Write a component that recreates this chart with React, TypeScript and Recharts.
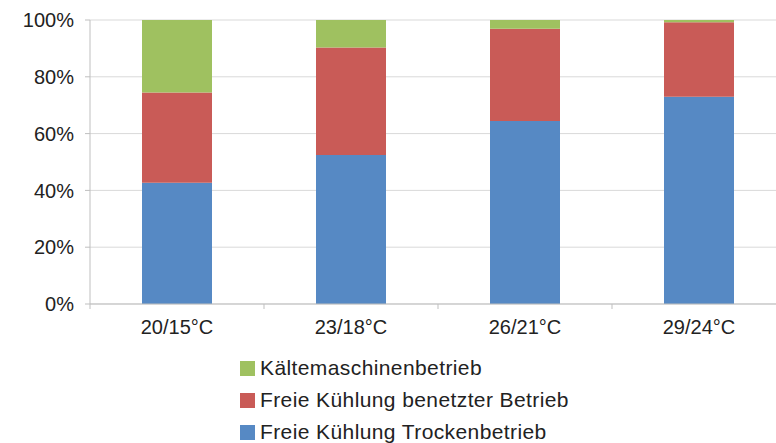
import { BarChart, Bar, XAxis, YAxis, CartesianGrid } from 'recharts';

const categories = ['20/15°C', '23/18°C', '26/21°C', '29/24°C'];
const trocken = [42.7, 52.5, 64.4, 73.0];
const benetzt = [31.8, 37.8, 32.5, 26.2];
const kaelte = [25.5, 9.7, 3.1, 0.8];
const yTicks = [0, 20, 40, 60, 80, 100];

const series = [
  { key: 'trocken', name: 'Freie Kühlung Trockenbetrieb', color: '#5689c4' },
  { key: 'benetzt', name: 'Freie Kühlung benetzter Betrieb', color: '#c95b57' },
  { key: 'kaelte', name: 'Kältemaschinenbetrieb', color: '#9fc160' },
];

const data = categories.map((c, i) => ({
  cat: c,
  trocken: trocken[i],
  benetzt: benetzt[i],
  kaelte: kaelte[i],
}));

const FONT = '"Liberation Sans", Arial, sans-serif';
const AXIS = '#bfbfbf';

function CatTick(props: any) {
  const { x, y, payload } = props;
  const half = payload.offset ?? 87;
  return (
    <g>
      <line x1={x - half} x2={x - half} y1={y} y2={y + 5} stroke={AXIS} />
      <text x={x} y={y + 16} dy="0.71em" textAnchor="middle" fontSize={20} fill="#222" fontFamily={FONT}>
        {payload.value}
      </text>
    </g>
  );
}

export default function App() {
  return (
    <div
      style={{
        position: 'absolute',
        left: 0,
        top: 0,
        width: 776,
        height: 443,
        overflow: 'hidden',
        background: '#fff',
        fontFamily: FONT,
      }}
    >
      <BarChart
        width={800}
        height={340}
        data={data}
        margin={{ top: 20, right: 14, left: 0, bottom: 0 }}
        barSize={70}
      >
        <CartesianGrid vertical={false} stroke="#d9d9d9" />
        <XAxis
          dataKey="cat"
          height={36}
          tickSize={0}
          tickMargin={0}
          tickLine={false}
          axisLine={{ stroke: AXIS }}
          tick={<CatTick />}
          interval={0}
        />
        <YAxis
          width={90}
          domain={[0, 100]}
          ticks={yTicks}
          tickFormatter={(v: number) => `${v}%`}
          tickSize={5}
          tickMargin={11}
          axisLine={{ stroke: AXIS }}
          tickLine={{ stroke: AXIS }}
          tick={{ fontSize: 20, fill: '#222', fontFamily: FONT }}
        />
        {series.map((s) => (
          <Bar key={s.key} dataKey={s.key} name={s.name} stackId="a" fill={s.color} isAnimationActive={false} />
        ))}
      </BarChart>
      {/* legend below the chart, top entry first */}
      <div style={{ position: 'absolute', left: 240, top: 352 }}>
        {[...series].reverse().map((s) => (
          <div key={s.key} style={{ display: 'flex', alignItems: 'center', height: 32 }}>
            <span style={{ width: 15, height: 15, background: s.color, marginRight: 5, display: 'inline-block' }} />
            <span style={{ fontSize: 21, letterSpacing: 0.4, color: '#222', whiteSpace: 'nowrap' }}>{s.name}</span>
          </div>
        ))}
      </div>
    </div>
  );
}
